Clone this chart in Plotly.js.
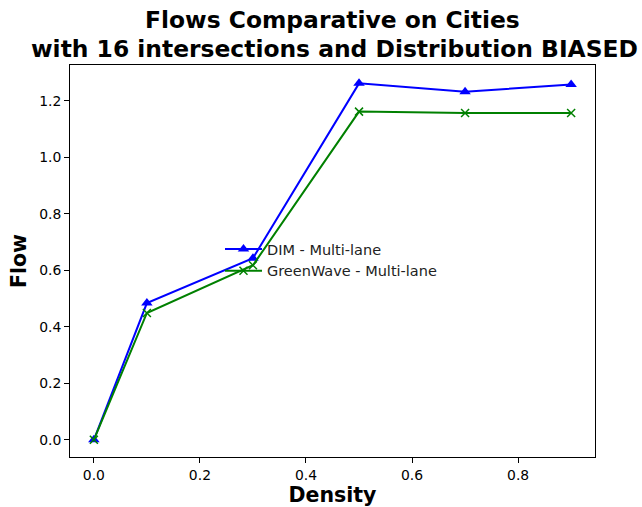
<!DOCTYPE html>
<html>
<head>
<meta charset="utf-8">
<script src="https://cdn.plot.ly/plotly-3.0.1.min.js"></script>
<style>html,body{margin:0;padding:0;background:#fff;}#chart{width:642px;height:507px;}</style>
</head>
<body>
<div id="chart"></div>
<script>
const density = [0.0, 0.1, 0.3, 0.5, 0.7, 0.9];
const dimFlow = [0.0, 0.484, 0.643, 1.262, 1.232, 1.258];
const greenWaveFlow = [0.0, 0.449, 0.618, 1.162, 1.157, 1.157];
const seriesNames = ["DIM - Multi-lane", "GreenWave - Multi-lane"];
const titleLines = ["Flows Comparative on Cities", "with 16 intersections and Distribution BIASED"];
const xTicks = [0.0, 0.2, 0.4, 0.6, 0.8];
const yTicks = [0.0, 0.2, 0.4, 0.6, 0.8, 1.0, 1.2];

const font = "DejaVu Sans, sans-serif";
const traces = [
  {x: density, y: dimFlow, name: seriesNames[0], mode: "lines+markers",
   line: {color: "#0000ff", width: 2}, marker: {symbol: "triangle-up", size: 10, color: "#0000ff"}},
  {x: density, y: greenWaveFlow, name: seriesNames[1], mode: "lines+markers",
   line: {color: "#008000", width: 2}, marker: {symbol: "x-thin", size: 8, color: "#008000", line: {color: "#008000", width: 1.5}}}
];
const axisCommon = {
  showline: true, mirror: true, linecolor: "#000", linewidth: 1,
  ticks: "outside", ticklen: 5, tickwidth: 1, tickcolor: "#000",
  showgrid: false, zeroline: false,
  tickfont: {family: font, size: 13.9, color: "#000"}
};
const titleFont = {family: font, size: 23.4, color: "#000"};
const layout = {
  width: 642, height: 507,
  margin: {l: 70, r: 47, t: 65, b: 50},
  paper_bgcolor: "#fff", plot_bgcolor: "#fff",
  showlegend: true,
  annotations: [
    {text: "<b>" + titleLines[0] + "</b>", xref: "paper", yref: "paper", x: 0.5, y: 1 + 45 / 392,
     xanchor: "center", yanchor: "middle", showarrow: false, font: titleFont},
    {text: "<b>" + titleLines[1] + "</b>", xref: "paper", yref: "paper", x: 0.503, y: 1 + 16 / 392,
     xanchor: "center", yanchor: "middle", showarrow: false, font: titleFont}
  ],
  xaxis: Object.assign({}, axisCommon, {range: [-0.045, 0.945], tickvals: xTicks, ticktext: xTicks.map(v => v.toFixed(1)),
          title: {text: "<b>Density</b>", font: {family: font, size: 20.5, color: "#000"}, standoff: 4}}),
  yaxis: Object.assign({}, axisCommon, {range: [-0.061, 1.327], tickvals: yTicks, ticktext: yTicks.map(v => v.toFixed(1)),
          title: {text: "<b>Flow</b>", font: {family: font, size: 20.5, color: "#000"}, standoff: 6}}),
  legend: {x: 0.2857, y: 0.5026, xanchor: "left", yanchor: "middle", bgcolor: "rgba(255,255,255,0)",
           itemwidth: 37,
           font: {family: font, size: 14.5, color: "#222"}, tracegroupgap: 0}
};
Plotly.newPlot("chart", traces, layout, {displayModeBar: false, staticPlot: true});
</script>
</body>
</html>
